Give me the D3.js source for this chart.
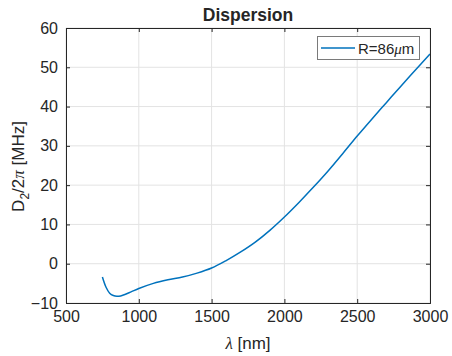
<!DOCTYPE html>
<html>
<head>
<meta charset="utf-8">
<script src="https://cdn.jsdelivr.net/npm/d3@7"></script>
<style>
  body { margin: 0; background: #fff; }
  text { font-family: "Liberation Sans", Arial, sans-serif; fill: #262626; }
</style>
</head>
<body>
<svg id="chart" width="452" height="356"></svg>
<script>
// wavelength in nm, dispersion D2/2pi in MHz
var wavelength = [750, 775, 800, 825, 850, 875, 900, 950, 1000, 1100, 1200, 1300, 1400, 1500,
  1600, 1700, 1800, 1900, 2000, 2100, 2200, 2300, 2400, 2500, 2600, 2700, 2800, 2900, 3000];
var dispersion = [-3.4, -6.0, -7.5, -8.1, -8.3, -8.2, -7.9, -7.1, -6.3, -5.0, -4.1, -3.4, -2.4, -1.1,
  0.8, 3.0, 5.5, 8.5, 11.9, 15.6, 19.5, 23.6, 28.0, 32.5, 36.8, 41.0, 45.2, 49.3, 53.4];
var xTicks = [500, 1000, 1500, 2000, 2500, 3000];
var yTicks = [-10, 0, 10, 20, 30, 40, 50, 60];
var seriesName = "R=86";

var svg = d3.select("#chart");
var padL = 66, padR = 430, padT = 28, padB = 303;
var axisColor = "#262626";

var x = d3.scaleLinear().domain([500, 3000]).range([padL, padR]);
var y = d3.scaleLinear().domain([-10, 60]).range([padB, padT]);

// grid
var grid = svg.append("g");
grid.selectAll(".gx").data(xTicks).enter().append("line")
  .attr("x1", function(d) { return x(d); }).attr("x2", function(d) { return x(d); })
  .attr("y1", padT).attr("y2", padB)
  .attr("stroke", "#e3e3e3").attr("stroke-width", 1);
grid.selectAll(".gy").data(yTicks).enter().append("line")
  .attr("y1", function(d) { return y(d); }).attr("y2", function(d) { return y(d); })
  .attr("x1", padL).attr("x2", padR)
  .attr("stroke", "#e3e3e3").attr("stroke-width", 1);

// curve
var pts = wavelength.map(function(w, i) { return [w, dispersion[i]]; });
var line = d3.line()
  .x(function(d) { return x(d[0]); })
  .y(function(d) { return y(d[1]); })
  .curve(d3.curveCatmullRom.alpha(0.5));
svg.append("path").datum(pts)
  .attr("d", line)
  .attr("fill", "none")
  .attr("stroke", "#0072BD")
  .attr("stroke-width", 1.5);

// axes (ticks inward, box on)
var tickLen = 4;
var xAxis = d3.axisBottom(x).tickValues(xTicks).tickSize(-tickLen).tickPadding(8).tickFormat(d3.format("d"));
var yAxis = d3.axisLeft(y).tickValues(yTicks).tickSize(-tickLen).tickPadding(8).tickFormat(d3.format("d"));

var gx = svg.append("g").attr("transform", "translate(0," + padB + ")").call(xAxis);
var gy = svg.append("g").attr("transform", "translate(" + padL + ",0)").call(yAxis);
var gxt = svg.append("g").attr("transform", "translate(0," + padT + ")")
  .call(d3.axisTop(x).tickValues(xTicks).tickSize(-tickLen).tickFormat(""));
var gyr = svg.append("g").attr("transform", "translate(" + padR + ",0)")
  .call(d3.axisRight(y).tickValues(yTicks).tickSize(-tickLen).tickFormat(""));

[gx, gy, gxt, gyr].forEach(function(g) {
  g.select(".domain").attr("stroke", axisColor).attr("stroke-width", 1);
  g.selectAll(".tick line").attr("stroke", axisColor);
  g.selectAll(".tick text").attr("font-size", 16).attr("fill", axisColor)
    .style("font-family", "'Liberation Sans', Arial, sans-serif");
});

// title
svg.append("text").attr("x", (padL + padR) / 2).attr("y", 21)
  .attr("text-anchor", "middle").attr("font-size", 17.5).attr("font-weight", "bold")
  .attr("fill", "#000").text("Dispersion");

// x label
var xl = svg.append("text").attr("x", (padL + padR) / 2).attr("y", 349)
  .attr("text-anchor", "middle").attr("font-size", 17);
xl.append("tspan").attr("font-style", "italic").style("font-family", "'Liberation Serif', serif").text("λ");
xl.append("tspan").text(" [nm]");

// y label
var yl = svg.append("text")
  .attr("transform", "translate(24," + (padT + padB + 2) / 2 + ") rotate(-90)")
  .attr("text-anchor", "middle").attr("font-size", 17);
yl.append("tspan").text("D");
yl.append("tspan").attr("font-size", 12).attr("dy", 5).text("2");
yl.append("tspan").attr("dy", -5).text("/2");
yl.append("tspan").attr("font-style", "italic").style("font-family", "'Liberation Serif', serif").text("π");
yl.append("tspan").text(" [MHz]");

// legend
var lg = svg.append("g");
lg.append("rect").attr("x", 317.5).attr("y", 36.5).attr("width", 102).attr("height", 23)
  .attr("fill", "#fff").attr("stroke", "#7a7a7a").attr("stroke-width", 1);
lg.append("line").attr("x1", 321).attr("x2", 355).attr("y1", 48).attr("y2", 48)
  .attr("stroke", "#0072BD").attr("stroke-width", 1.5);
var lt = lg.append("text").attr("x", 358).attr("y", 53.5).attr("font-size", 15);
lt.append("tspan").text(seriesName);
lt.append("tspan").attr("font-style", "italic").style("font-family", "'Liberation Serif', serif").text("μ");
lt.append("tspan").text("m");
</script>
</body>
</html>
